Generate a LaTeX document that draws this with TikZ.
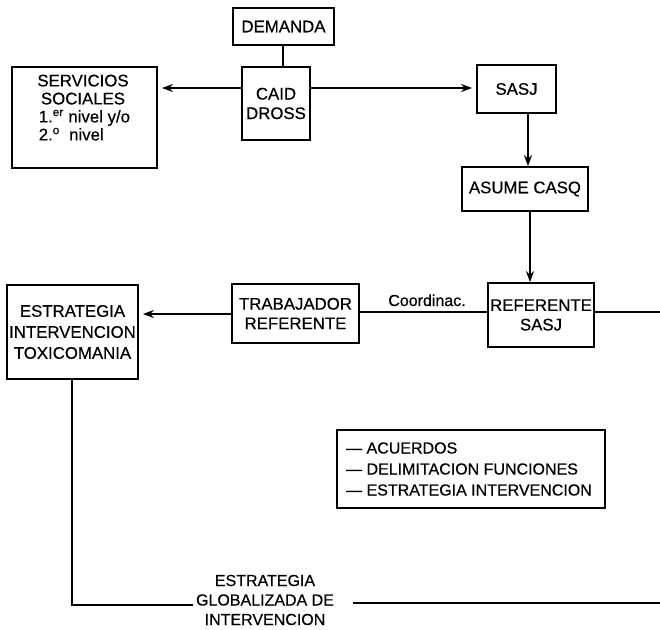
\documentclass[tikz,border=0pt]{standalone}
\usepackage{fontspec}
\setmainfont{Liberation Sans}[FakeBold=0.5]
\usetikzlibrary{arrows.meta}
\begin{document}
\begin{tikzpicture}[x=1pt,y=-1pt,
  box/.style={draw, line width=1.8pt, inner sep=0pt, align=center,
    font=\fontsize{16.8}{19.5}\selectfont},
  txt/.style={inner sep=0pt, align=center, font=\fontsize{16.8}{19.5}\selectfont},
  wire/.style={line width=1.6pt},
  arr/.style={wire, -{Stealth[length=11pt,width=8pt]}}]
\useasboundingbox (0,0) rectangle (660,629);

% boxes
\node[box, minimum width=101pt, minimum height=37pt] (dem) at (283.5,26.5) {DEMANDA};
\node[box, minimum width=68pt, minimum height=73pt] (cai) at (276,103.5) {CAID\\DROSS};
\node[box, minimum width=145pt, minimum height=101pt] (srv) at (84.5,117.5) {};
\node[txt, anchor=center] (srvtxt) at (83,109.5)
  {\begin{tabular}{@{}l@{}}\multicolumn{1}{@{}c@{}}{SERVICIOS}\\[-1.5pt]
   \multicolumn{1}{@{}c@{}}{SOCIALES}\\[-1.5pt]
   \,1.\textsuperscript{er} nivel y/o\\[-1.5pt]
   \,2.\textsuperscript{o}\ \ nivel\end{tabular}};
\node[box, minimum width=79pt, minimum height=48pt] (sasj) at (516.5,89) {SASJ};
\node[box, minimum width=126pt, minimum height=44pt] (asu) at (525,189) {ASUME CASQ};
\node[box, minimum width=106pt, minimum height=64pt] (ref) at (541,315) {REFERENTE\\SASJ};
\node[box, minimum width=127pt, minimum height=59pt] (tra) at (295.5,313.5) {TRABAJADOR\\REFERENTE};
\node[box, minimum width=131pt, minimum height=94pt,
  font=\fontsize{16.8}{21}\selectfont] (est) at (72.5,332) {ESTRATEGIA\\INTERVENCION\\TOXICOMANIA};
\node[box, minimum width=268pt, minimum height=78pt, align=left,
  font=\fontsize{16}{21}\selectfont] (acu) at (471,469)
  {\hspace*{-4pt}— ACUERDOS\hspace*{100pt}\\
   \hspace*{-4pt}— DELIMITACION FUNCIONES\\
   \hspace*{-4pt}— ESTRATEGIA INTERVENCION};
\node[txt, font=\fontsize{16}{19.5}\selectfont] (glob) at (265,600)
  {ESTRATEGIA\\GLOBALIZADA DE\\INTERVENCION};
\node[txt, font=\fontsize{16}{18}\selectfont, anchor=base] (coord) at (427,306) {Coordinac.};

% connectors
\draw[wire] (dem.south -| 283,0) -- (283,0 |- cai.north);
\draw[arr, shorten >=4pt] (cai.west |- 0,88) -- (srv.east |- 0,88);
\draw[arr, shorten >=4pt] (cai.east |- 0,88) -- (sasj.west |- 0,88);
\draw[arr] (528,0 |- sasj.south) -- (528,0 |- asu.north);
\draw[arr] (530,0 |- asu.south) -- (530,0 |- ref.north);
\coordinate (rend) at (660,312);
\draw[wire] (ref.east |- rend) -- (rend);
\draw[wire] (ref.west |- 0,312) -- (tra.east |- 0,312);
\draw[arr, shorten >=4pt] (tra.west |- 0,314) -- (est.east |- 0,314);
\coordinate (gl) at (193,605);
\coordinate (gr) at (353,603);
\coordinate (gend) at (660,603);
\draw[wire] (72,0 |- est.south) -- (72,605) -- (gl);
\draw[wire] (gr) -- (gend);
\end{tikzpicture}
\end{document}
